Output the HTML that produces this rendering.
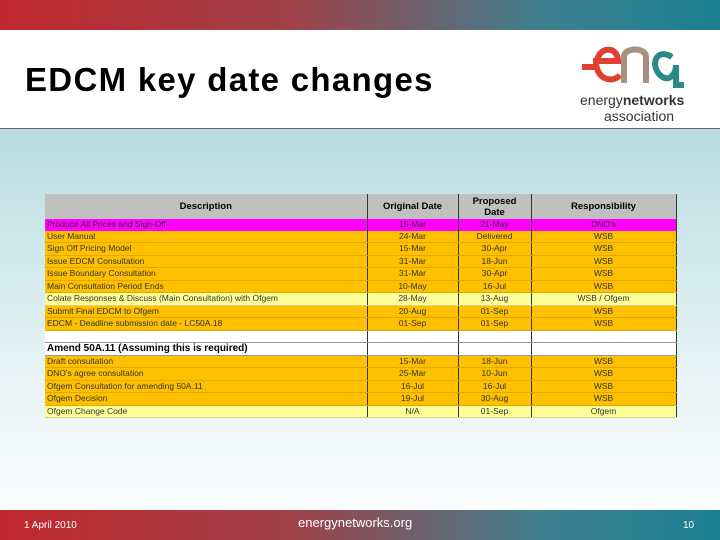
<!DOCTYPE html>
<html><head><meta charset="utf-8"><style>
body{margin:0;width:720px;height:540px;position:relative;overflow:hidden;font-family:"Liberation Sans",sans-serif}
.top{position:absolute;left:0;top:0;width:720px;height:30px;background:linear-gradient(90deg,#c0272d,#a04048 40%,#3f7f8f 75%,#1a8090)}
.hdr{position:absolute;left:0;top:30px;width:720px;height:98px;background:#fff;border-bottom:1px solid #666}
.body{position:absolute;left:0;top:129px;width:720px;height:381px;background:linear-gradient(180deg,#b9dde2,#e4f2f4 60%,#fbfdfd)}
.bot{position:absolute;left:0;top:510px;width:720px;height:30px;background:linear-gradient(90deg,#c0272d,#a04048 40%,#3f7f8f 75%,#1a8090);color:#fff}
h1{position:absolute;left:25px;top:31px;margin:0;font-size:33px;letter-spacing:1.3px;line-height:38px;font-weight:bold;color:#000}
table{position:absolute;left:45px;top:194px;border-collapse:collapse;font-size:8.5px;width:631px;table-layout:fixed}
td,th{padding:0 2px;height:11.5px;line-height:11px;border-right:1px solid #333;white-space:nowrap;overflow:hidden;color:#333}
th{background:#c0c0c0;height:25px;font-size:9.5px;line-height:11px;color:#000}
td.c{text-align:center}
tr.o td{background:#ffc000;border-bottom:1px solid #e0a800}
tr.y td{background:#ffff99;border-bottom:1px solid #e0d080}
tr.m td{background:#ff00ff}
tr.w td{background:#fff;border-bottom:1px solid #999}
</style></head><body>
<div class="top"></div>
<div class="hdr">
<h1>EDCM key date changes</h1>
<div style="position:absolute;left:580px;top:5px;width:135px;height:90px">
<svg width="135" height="55" style="position:absolute;left:0;top:0"><path d="M2 32 H16 M16 32 C16 10 38 10 38 26 H16 C16 46 34 48 40 40" stroke="#e04030" stroke-width="6" fill="none"/><path d="M44 48 V22 C44 12 66 12 66 22 V48" stroke="#a89080" stroke-width="6" fill="none"/><path d="M92 22 C76 12 70 30 80 40 C88 48 96 40 96 30 V50 H104" stroke="#2a8a88" stroke-width="6" fill="none"/></svg>
<div style="position:absolute;left:0;top:57px;font-size:14px;color:#333;white-space:nowrap">energy<b>networks</b></div>
<div style="position:absolute;left:24px;top:73px;font-size:14px;color:#333">association</div>
</div></div>
<div class="body"></div>
<table>
<colgroup><col style="width:322px"><col style="width:91px"><col style="width:73px"><col style="width:145px"></colgroup>
<tr><th>Description</th><th>Original Date</th><th>Proposed<br>Date</th><th>Responsibility</th></tr>
<tr class="m"><td>Produce All Prices and Sign-Off</td><td class="c">15-Mar</td><td class="c">21-May</td><td class="c">DNO's</td></tr>
<tr class="o"><td>User Manual</td><td class="c">24-Mar</td><td class="c">Delivered</td><td class="c">WSB</td></tr>
<tr class="o"><td>Sign Off Pricing Model</td><td class="c">15-Mar</td><td class="c">30-Apr</td><td class="c">WSB</td></tr>
<tr class="o"><td>Issue EDCM Consultation</td><td class="c">31-Mar</td><td class="c">18-Jun</td><td class="c">WSB</td></tr>
<tr class="o"><td>Issue Boundary Consultation</td><td class="c">31-Mar</td><td class="c">30-Apr</td><td class="c">WSB</td></tr>
<tr class="o"><td>Main Consultation Period Ends</td><td class="c">10-May</td><td class="c">16-Jul</td><td class="c">WSB</td></tr>
<tr class="y"><td>Colate Responses &amp; Discuss (Main Consultation) with Ofgem</td><td class="c">28-May</td><td class="c">13-Aug</td><td class="c">WSB / Ofgem</td></tr>
<tr class="o"><td>Submit Final EDCM to Ofgem</td><td class="c">20-Aug</td><td class="c">01-Sep</td><td class="c">WSB</td></tr>
<tr class="o"><td>EDCM - Deadline submission date - LC50A.18</td><td class="c">01-Sep</td><td class="c">01-Sep</td><td class="c">WSB</td></tr>
<tr class="w"><td>&nbsp;</td><td></td><td></td><td></td></tr>
<tr class="w"><td style="font-weight:bold;color:#000;font-size:10px">Amend 50A.11 (Assuming this is required)</td><td></td><td></td><td></td></tr>
<tr class="o"><td>Draft consultation</td><td class="c">15-Mar</td><td class="c">18-Jun</td><td class="c">WSB</td></tr>
<tr class="o"><td>DNO's agree consultation</td><td class="c">25-Mar</td><td class="c">10-Jun</td><td class="c">WSB</td></tr>
<tr class="o"><td>Ofgem Consultation for amending 50A.11</td><td class="c">16-Jul</td><td class="c">16-Jul</td><td class="c">WSB</td></tr>
<tr class="o"><td>Ofgem Decision</td><td class="c">19-Jul</td><td class="c">30-Aug</td><td class="c">WSB</td></tr>
<tr class="y"><td>Ofgem Change Code</td><td class="c">N/A</td><td class="c">01-Sep</td><td class="c">Ofgem</td></tr>
</table>
<div class="bot">
<span style="position:absolute;left:24px;top:10px;font-size:10px">1 April 2010</span>
<span style="position:absolute;left:298px;top:5px;font-size:13px">energynetworks.org</span>
<span style="position:absolute;left:683px;top:10px;font-size:10px">10</span>
</div>
</body></html>
